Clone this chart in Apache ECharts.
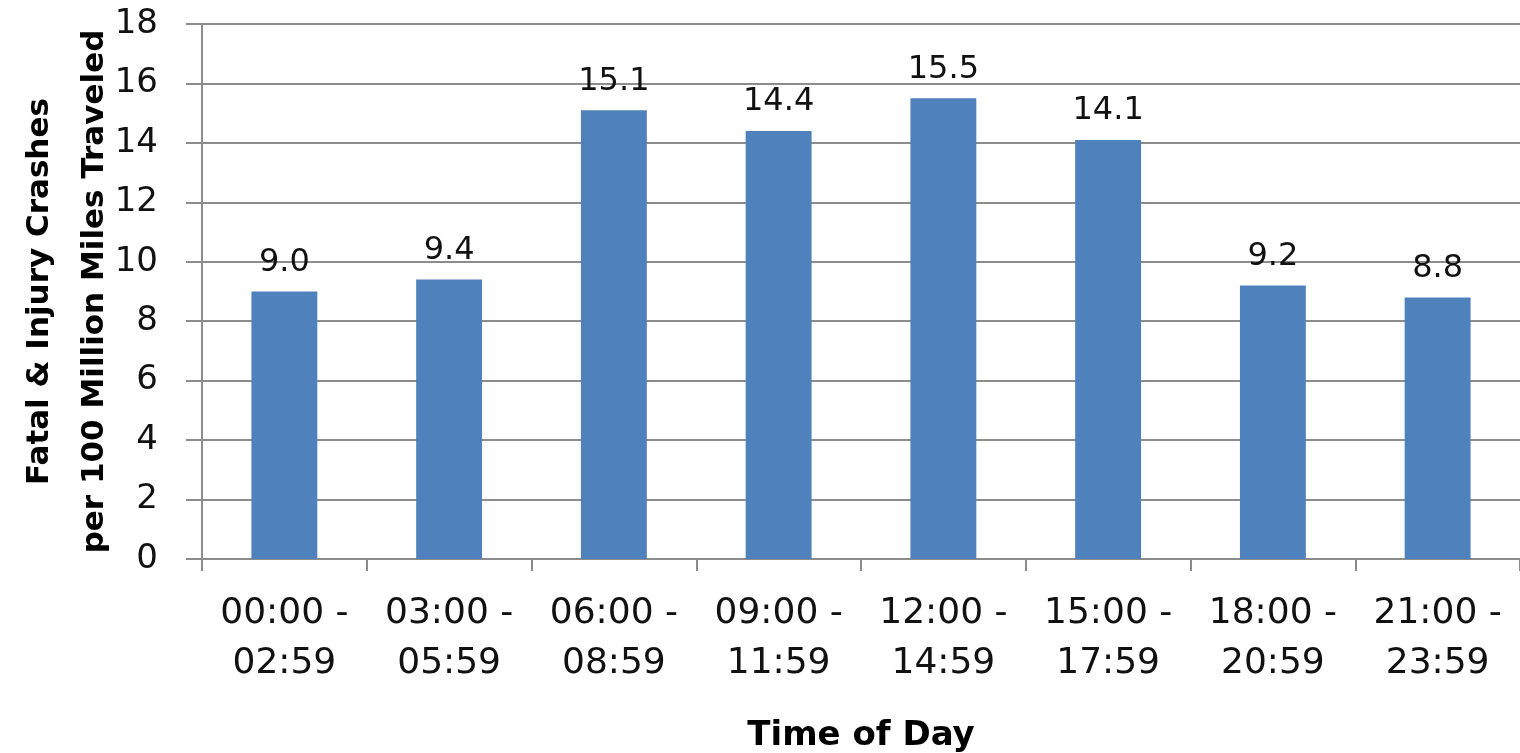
<!DOCTYPE html>
<html>
<head>
<meta charset="utf-8">
<script src="https://cdn.jsdelivr.net/npm/echarts@6/dist/echarts.min.js"></script>
<style>
html,body{margin:0;padding:0;background:#fff;}
#chart{width:1520px;height:753px;}
</style>
</head>
<body>
<div id="chart"></div>
<script>
const categories = ["00:00 -\n02:59","03:00 -\n05:59","06:00 -\n08:59","09:00 -\n11:59","12:00 -\n14:59","15:00 -\n17:59","18:00 -\n20:59","21:00 -\n23:59"];
const values = [9.0, 9.4, 15.1, 14.4, 15.5, 14.1, 9.2, 8.8];
const yTitle = "Fatal & Injury Crashes\nper 100 Million Miles Traveled";
const xTitle = "Time of Day";

const font = "DejaVu Sans";
const chart = echarts.init(document.getElementById('chart'));
chart.setOption({
  animation: false,
  grid: {left: 202, right: 0, top: 24, bottom: 194, containLabel: false, outerBoundsMode: 'none'},
  xAxis: {
    type: 'category',
    data: categories,
    name: xTitle,
    nameLocation: 'middle',
    nameGap: 160,
    nameMoveOverlap: false,
    nameTextStyle: {fontFamily: font, fontWeight: 'bold', fontSize: 34, color: '#000'},
    axisLine: {show: true, lineStyle: {color: '#8c8c8c', width: 2}},
    axisTick: {show: true, length: 12, lineStyle: {color: '#8c8c8c', width: 2}},
    axisLabel: {interval: 0, margin: 30, fontFamily: font, fontSize: 36, lineHeight: 50, color: '#111'}
  },
  yAxis: {
    type: 'value',
    min: 0, max: 18, interval: 2,
    name: yTitle,
    nameLocation: 'middle',
    nameGap: 80,
    nameMoveOverlap: false,
    nameRotate: 90,
    nameTextStyle: {fontFamily: font, fontWeight: 'bold', fontSize: 31, lineHeight: 55, color: '#000'},
    axisLine: {show: true, lineStyle: {color: '#8c8c8c', width: 2}},
    axisTick: {show: true, length: 16, lineStyle: {color: '#8c8c8c', width: 2}},
    axisLabel: {margin: 44, fontFamily: font, fontSize: 34, color: '#111'},
    splitLine: {show: true, lineStyle: {color: '#8c8c8c', width: 2}}
  },
  series: [{
    type: 'bar',
    data: values,
    barWidth: '40%',
    itemStyle: {color: '#4F81BD'},
    label: {
      show: true, position: 'top', distance: 13,
      fontFamily: font, fontSize: 32, color: '#111',
      formatter: p => p.value.toFixed(1)
    }
  }]
});
</script>
</body>
</html>
